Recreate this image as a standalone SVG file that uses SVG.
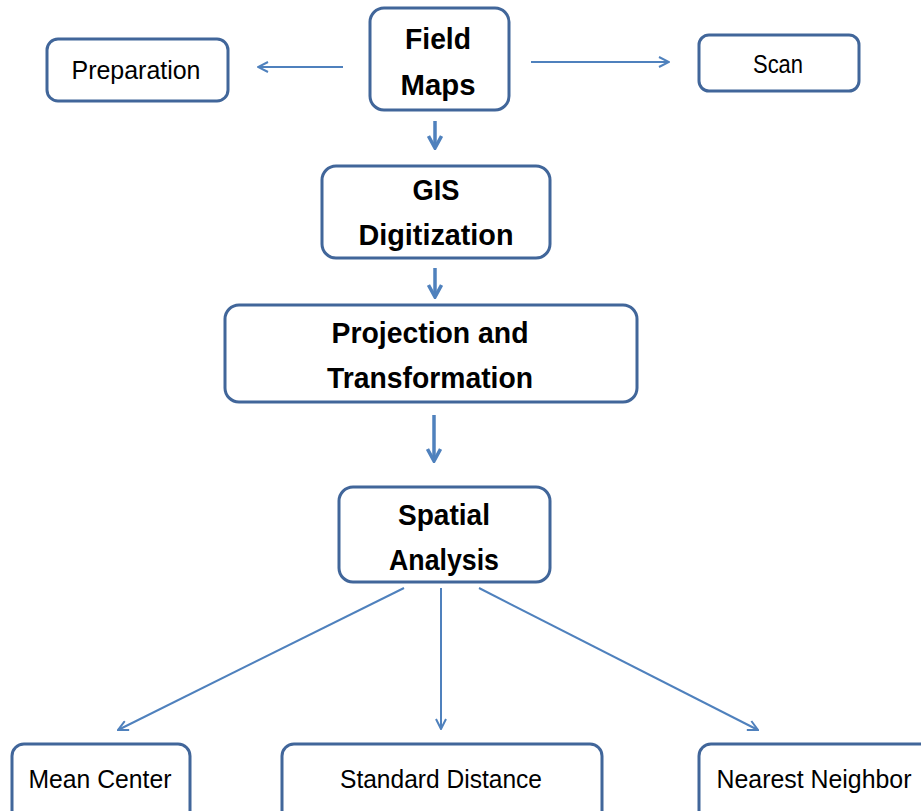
<svg xmlns="http://www.w3.org/2000/svg" width="921" height="811" viewBox="0 0 921 811">
<defs>
<style>
.box{fill:#fff;stroke:#41669a;stroke-width:3}
.b{font-family:"Liberation Sans",Arial,sans-serif;font-weight:bold;font-size:29px;fill:#000;text-anchor:middle}
.n{font-family:"Liberation Sans",Arial,sans-serif;font-size:26px;fill:#000;text-anchor:middle}
.c{stroke:#4f81bd;fill:none}
.thin{stroke-width:2}
.thick{stroke-width:3.5}
</style>
<marker id="ah" viewBox="0 0 12 12" refX="11" refY="6" markerWidth="12" markerHeight="12" markerUnits="userSpaceOnUse" orient="auto">
<path d="M1,1 L11,6 L1,11" fill="none" stroke="#4f81bd" stroke-width="2"/>
</marker>
<marker id="ahb" viewBox="0 0 16 16" refX="14" refY="8" markerWidth="16" markerHeight="16" markerUnits="userSpaceOnUse" orient="auto">
<path d="M2,1.5 L14,8 L2,14.5" fill="none" stroke="#4f81bd" stroke-width="3.5"/>
</marker>
</defs>
<rect width="921" height="811" fill="#fff"/>
<g id="connectors">
<line class="c thin" x1="343" y1="67" x2="258" y2="67" marker-end="url(#ah)"/>
<line class="c thin" x1="531" y1="62" x2="669" y2="62" marker-end="url(#ah)"/>
<line class="c thick" x1="435" y1="121" x2="435" y2="148" marker-end="url(#ahb)"/>
<line class="c thick" x1="435" y1="268" x2="435" y2="297" marker-end="url(#ahb)"/>
<line class="c thick" x1="434" y1="415" x2="434" y2="461" marker-end="url(#ahb)"/>
<line class="c thin" x1="404" y1="588" x2="118" y2="730" marker-end="url(#ah)"/>
<line class="c thin" x1="441" y1="588" x2="441" y2="729" marker-end="url(#ah)"/>
<line class="c thin" x1="479" y1="588" x2="758" y2="730" marker-end="url(#ah)"/>
</g>
<g id="field-maps">
<rect class="box" x="370" y="8" width="139" height="102" rx="14"/>
<text class="b" x="438" y="49" textLength="66" lengthAdjust="spacingAndGlyphs">Field</text>
<text class="b" x="438" y="95" textLength="75" lengthAdjust="spacingAndGlyphs">Maps</text>
</g>
<g id="preparation">
<rect class="box" x="47" y="39" width="181" height="62" rx="11"/>
<text class="n" x="136" y="79" textLength="129" lengthAdjust="spacingAndGlyphs">Preparation</text>
</g>
<g id="scan">
<rect class="box" x="699" y="35" width="160" height="56" rx="10"/>
<text class="n" x="778" y="73" textLength="50" lengthAdjust="spacingAndGlyphs">Scan</text>
</g>
<g id="gis">
<rect class="box" x="322" y="166" width="228" height="92" rx="14"/>
<text class="b" x="436" y="200" textLength="47" lengthAdjust="spacingAndGlyphs">GIS</text>
<text class="b" x="436" y="245" textLength="155" lengthAdjust="spacingAndGlyphs">Digitization</text>
</g>
<g id="projection">
<rect class="box" x="225" y="305" width="412" height="97" rx="14"/>
<text class="b" x="430" y="343" textLength="197" lengthAdjust="spacingAndGlyphs">Projection and</text>
<text class="b" x="430" y="388" textLength="206" lengthAdjust="spacingAndGlyphs">Transformation</text>
</g>
<g id="spatial">
<rect class="box" x="339" y="487" width="211" height="95" rx="14"/>
<text class="b" x="444" y="525" textLength="92" lengthAdjust="spacingAndGlyphs">Spatial</text>
<text class="b" x="444" y="570" textLength="110" lengthAdjust="spacingAndGlyphs">Analysis</text>
</g>
<g id="mean-center">
<rect class="box" x="12" y="744" width="178" height="80" rx="12"/>
<text class="n" x="100" y="788" textLength="143" lengthAdjust="spacingAndGlyphs">Mean Center</text>
</g>
<g id="standard-distance">
<rect class="box" x="282" y="744" width="320" height="80" rx="12"/>
<text class="n" x="441" y="788" textLength="202" lengthAdjust="spacingAndGlyphs">Standard Distance</text>
</g>
<g id="nearest-neighbor">
<rect class="box" x="699" y="744" width="240" height="80" rx="12"/>
<text class="n" x="814" y="788" textLength="195" lengthAdjust="spacingAndGlyphs">Nearest Neighbor</text>
</g>
</svg>
